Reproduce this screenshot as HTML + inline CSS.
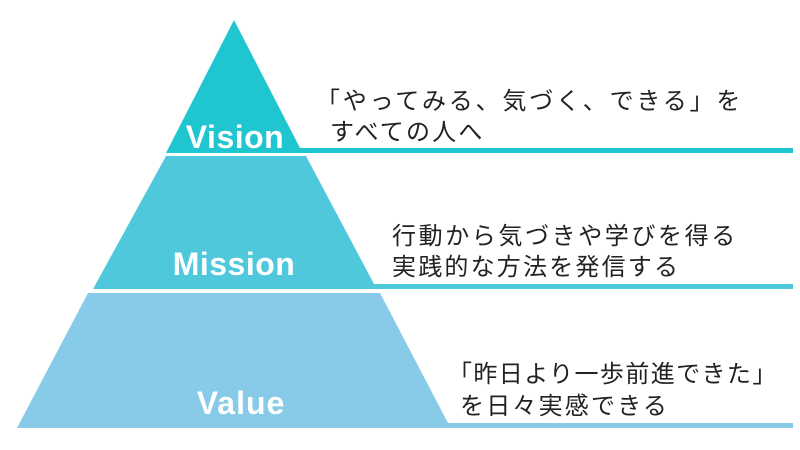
<!DOCTYPE html>
<html><head><meta charset="utf-8"><style>
body{margin:0;background:#fff;width:800px;height:445px;overflow:hidden}
</style></head><body>
<svg width="800" height="445" viewBox="0 0 800 445" xmlns="http://www.w3.org/2000/svg">
<polygon points="234,20 300,148 793,148 793,153 166,153" fill="#1fc6d0"/>
<polygon points="166,156 306,156 374,284 793,284 793,289 93,289" fill="#4fc8dc"/>
<polygon points="88,293 380,293 448,423 793,423 793,428 17,428" fill="#87cbe8"/>
<g font-family="Liberation Sans, sans-serif" font-weight="bold" fill="#fff" text-anchor="middle">
<text x="235" y="148" font-size="32" letter-spacing="0.5">Vision</text>
<text x="234" y="275" font-size="32" letter-spacing="0.5">Mission</text>
<text x="241" y="414" font-size="32" letter-spacing="1">Value</text>
</g>
<g font-family="Liberation Sans, Noto Sans CJK JP, sans-serif" font-size="24" letter-spacing="2.2" fill="#222">
<text x="316" y="109" letter-spacing="2.8">「やってみる、気づく、できる」を</text>
<text x="330" y="140">すべての人へ</text>
<text x="392" y="244" letter-spacing="2.6">行動から気づきや学びを得る</text>
<text x="392" y="275">実践的な方法を発信する</text>
<text x="448" y="382" letter-spacing="1.4">「昨日より一歩前進できた」</text>
<text x="460" y="414">を日々実感できる</text>
</g>
</svg>
</body></html>
